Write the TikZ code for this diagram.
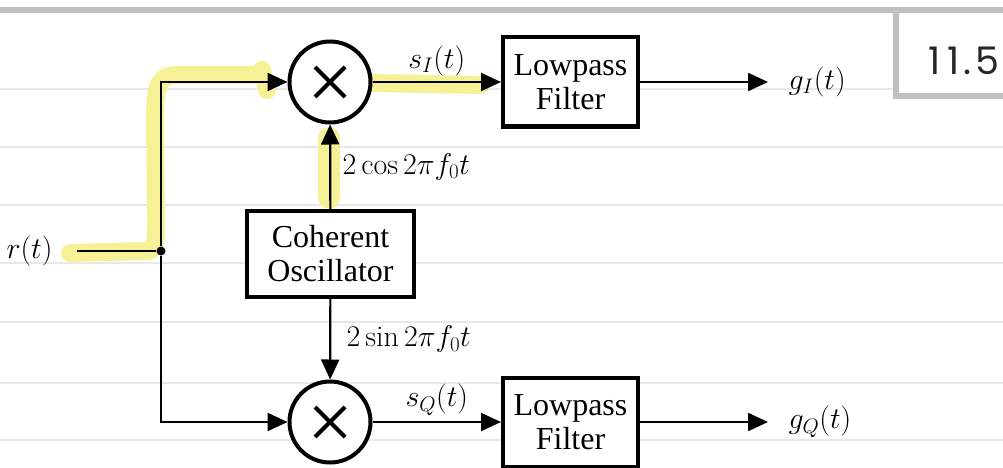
\RequirePackage{fix-cm}
\documentclass[tikz,border=0pt]{standalone}
\usepackage{fontspec}
\usepackage{amsmath}
\usetikzlibrary{arrows.meta}
\usetikzlibrary{positioning}
\newfontfamily\blockfont{Liberation Serif}
\newfontfamily\handfont{Poppins}
\definecolor{marker}{RGB}{247,241,150}
\definecolor{ruleline}{RGB}{232,232,232}
\definecolor{paperedge}{RGB}{192,192,192}

\begin{document}
\begin{tikzpicture}[x=1pt,y=-1pt,
    every node/.style={font=\fontsize{30}{32}\selectfont},
    block/.style={draw,fill=white,line width=4pt,minimum width=135pt,minimum height=89pt,
        inner sep=0pt,align=center,font=\blockfont\fontsize{32}{34}\selectfont},
    mixer/.style={draw,fill=white,circle,line width=4pt,minimum size=81pt,inner sep=0pt},
    dot/.style={circle,fill=black,inner sep=0pt,minimum size=9pt},
    wire/.style={line width=2.2pt},
    sig/.style={line width=2.2pt,-{Triangle[length=20pt,width=18pt]}},
    hl/.style={line width=18pt,line cap=round,line join=round,draw=marker},
    rule/.style={line width=1.2pt,draw=ruleline}]
                \useasboundingbox (0,0) rectangle (1003,468);
                \fill[white] (0,0) rectangle (1003,468);

                \draw[rule] (0,89) -- (893,89);
                \foreach \y in {147,205,263,322,383,440}
                    \draw[rule] (0,\y) -- (1003,\y);
                \fill[paperedge] (0,7) rectangle (1003,13);
                \draw[paperedge,line width=6pt] (896,10) rectangle (1010,96);
                \node[font=\handfont\fontsize{38}{38}\selectfont,text=black!85] (sec) at (964,61) {1\kern6pt1\kern4pt.\kern4pt5};

                \draw[hl] (70,253) -- (148,251) .. controls (156,250) and (156,240) .. (156,222)
                    -- (155,120) .. controls (155,86) and (158,76) .. (176,75) -- (262,75);
                \draw[hl] (262,70) -- (267,90);
                \draw[hl] (372,83) -- (480,85);
                \draw[hl,line width=22pt] (329,138) -- (329,198);

                \coordinate (rin) at (77,251);
                \coordinate (outI) at (768,82);
                \coordinate (outQ) at (768,422);

                \node[dot] (junc) at (161,251) {};
                \node[mixer] (mixI) at (330,82) {};
                \node[mixer] (mixQ) at (330,422) {};
                \node[block] (lpfI) at (570.5,82) {Lowpass\\Filter};
                \node[block] (lpfQ) at (570.5,422) {Lowpass\\Filter};
                \node[block,minimum width=167pt,minimum height=86pt] (osc) at (330.5,254) {Coherent\\Oscillator};

                \node[left=21pt of rin] (rlabel) {$r(t)$};
                \node[right=17pt of outI] (gI) {$g_I(t)$};
                \node[right=17pt of outQ] (gQ) {$g_Q(t)$};

                \foreach \m in {mixI,mixQ}
                    \draw[line width=4pt] (\m.center) +(-15,-15) -- +(15,15) +(-15,15) -- +(15,-15);

                \draw[wire] (rin) -- (junc);
                \draw[sig] (junc) |- (mixI);
                \draw[sig] (junc) |- (mixQ);
                \draw[sig] (mixI) -- (lpfI) node[midway,above=2pt] (sI) {$s_I(t)$};
                \draw[sig] (mixQ) -- (lpfQ) node[midway,above=2pt] (sQ) {$s_Q(t)$};
                \draw[sig] (osc) -- (mixI) node[midway,right=8pt] (cosl) {$2\cos 2\pi f_0t$};
                \draw[sig] (osc) -- (mixQ) node[midway,right=12pt] (sinl) {$2\sin 2\pi f_0t$};
                \draw[sig] (lpfI) -- (outI);
                \draw[sig] (lpfQ) -- (outQ);
            \end{tikzpicture}
\end{document}
